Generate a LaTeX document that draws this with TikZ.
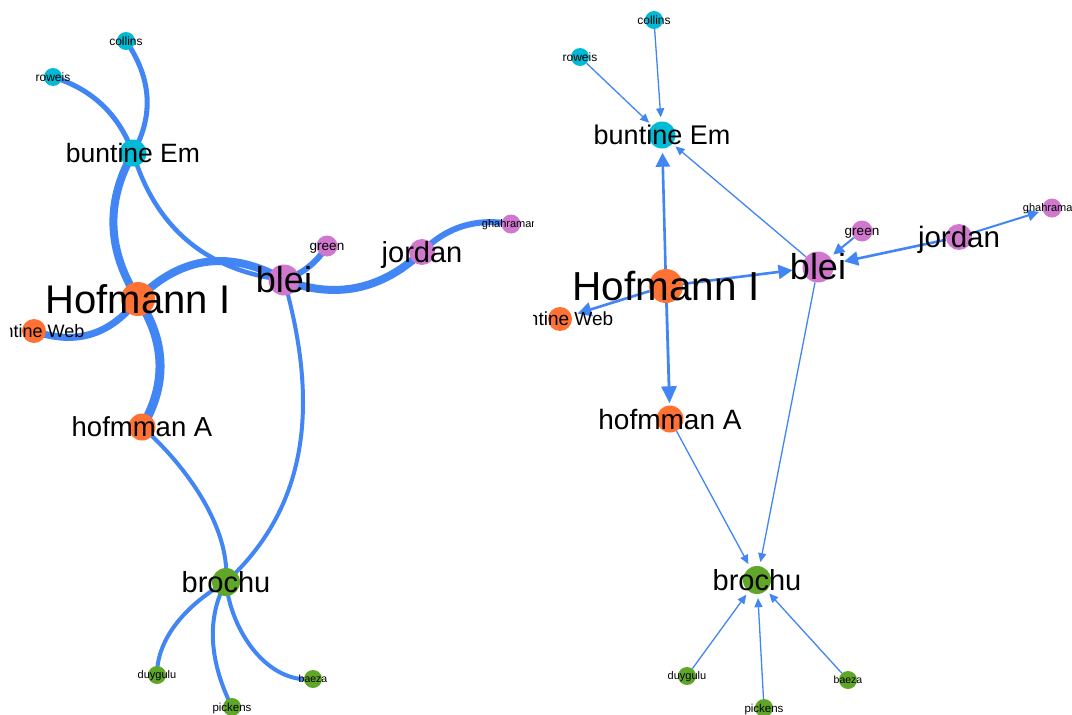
\documentclass[tikz,border=0pt]{standalone}
\usepackage{fontspec}
\setmainfont{Liberation Sans}
\usetikzlibrary{arrows.meta}
\pgfdeclarelayer{background}
\pgfsetlayers{background,main}

\definecolor{edgeblue}{RGB}{66,133,244}
\definecolor{ncyan}{RGB}{0,186,214}
\definecolor{norange}{RGB}{255,114,52}
\definecolor{npurple}{RGB}{208,120,206}
\definecolor{ngreen}{RGB}{96,166,40}

\tikzset{
  vtx/.style={circle, inner sep=0pt, minimum size=#1, draw=none},
  cy/.style={vtx=#1, fill=ncyan},
  og/.style={vtx=#1, fill=norange},
  pu/.style={vtx=#1, fill=npurple},
  gn/.style={vtx=#1, fill=ngreen},
  lbl/.style={inner sep=0pt, anchor=base, yshift=-0.36*#1pt,
              font=\fontsize{#1}{#1}\selectfont, text=black},
  cv/.style={draw=edgeblue, line width=#1},
  thinarr/.style={draw=edgeblue, line width=1.3, shorten >=4,
                  -{Triangle[length=9,width=8]}},
  medarr/.style={draw=edgeblue, line width=2, shorten >=4,
                 -{Triangle[length=11,width=11]}},
  bigarr/.style={draw=edgeblue, line width=2.6, shorten >=#1,
                 -{Triangle[length=14,width=14]}},
}

\begin{document}
\begin{tikzpicture}[x=1pt, y=-1pt]
\useasboundingbox (0,0) rectangle (1072,715);
\begin{pgfonlayer}{background}
\fill[white] (0,0) rectangle (1072,715);
\end{pgfonlayer}

% ---------------- undirected layout ----------------
\node[cy=18] (lcol)   at (126,41)  {};
\node[cy=18] (lrow)   at (53,77)   {};
\node[cy=27] (lbuE)   at (133,153) {};
\node[og=34] (lHof)   at (138,299) {};
\node[og=24] (lbuW)   at (34,331)  {};
\node[pu=31] (lblei)  at (284,280) {};
\node[pu=21] (lgreen) at (327,246) {};
\node[pu=26] (ljor)   at (422,252) {};
\node[pu=19] (lgha)   at (511,224) {};
\node[og=27] (lhoA)   at (142,427) {};
\node[gn=28] (lbro)   at (226,582) {};
\node[gn=18] (lduy)   at (157,675) {};
\node[gn=18] (lpic)   at (232,707) {};
\node[gn=18] (lbae)   at (313,679) {};

\begin{pgfonlayer}{background}
\draw[cv=5]   (lcol.center)  .. controls +(25.7,37.3) and +(21,-37.3)   .. (lbuE.center);
\draw[cv=5]   (lrow.center)  .. controls +(39.2,12.1) and +(-14.1,-38.5) .. (lbuE.center);
\draw[cv=8]   (lbuE.center)  .. controls +(-27.7,49)  and +(-31,-49)     .. (lHof.center);
\draw[cv=4.5] (lbuE.center)  .. controls +(22.8,75)   and +(-77.9,-9.7)  .. (lblei.center);
\draw[cv=8]   (lHof.center)  .. controls +(43.6,-43.6) and +(-53.7,-30.3) .. (lblei.center);
\draw[cv=7]   (lHof.center)  .. controls +(-27.2,35.6) and +(42.1,14.9)  .. (lbuW.center);
\draw[cv=9]   (lHof.center)  .. controls +(28,42.3)   and +(25.3,-42.3)  .. (lhoA.center);
\draw[cv=6]   (lblei.center) .. controls +(18.5,-6.1) and +(-10.2,16.5)  .. (lgreen.center);
\draw[cv=8]   (lblei.center) .. controls +(51.6,19.8) and +(-40.4,37.8)  .. (ljor.center);
\draw[cv=6]   (ljor.center)  .. controls +(24.6,-25.4) and +(-34.7,-6.1) .. (lgha.center);
\draw[cv=4]   (lblei.center) .. controls +(31,110)    and +(90,-82)      .. (lbro.center);
\draw[cv=4]   (lhoA.center)  .. controls +(35,30)     and +(5,-60)       .. (lbro.center);
\draw[cv=4]   (lbro.center)  .. controls +(-35,20)    and +(0,-40)       .. (lduy.center);
\draw[cv=4]   (lbro.center)  .. controls +(-22,40)    and +(-20,-40)     .. (lpic.center);
\draw[cv=4]   (lbro.center)  .. controls +(5,50)      and +(-45,5)       .. (lbae.center);
\end{pgfonlayer}

\begin{scope}
\clip (10,0) rectangle (533,715);
\node[lbl=12]   (lcol-t)   at (lcol)   {collins};
\node[lbl=12]   (lrow-t)   at (lrow)   {roweis};
\node[lbl=26.5] (lbuE-t)   at (lbuE)   {buntine Em};
\node[lbl=40]   (lHof-t)   at (lHof)   {Hofmann I};
\node[lbl=18]   (lbuW-t)   at (lbuW)   {buntine Web};
\node[lbl=36]   (lblei-t)  at (lblei)  {blei};
\node[lbl=13.5] (lgreen-t) at (lgreen) {green};
\node[lbl=29]   (ljor-t)   at (ljor)   {jordan};
\node[lbl=11]   (lgha-t)   at (lgha)   {ghahramani};
\node[lbl=27.5] (lhoA-t)   at (lhoA)   {hofmman A};
\node[lbl=29]   (lbro-t)   at (lbro)   {brochu};
\node[lbl=11]   (lduy-t)   at (lduy)   {duygulu};
\node[lbl=11.5] (lpic-t)   at (lpic)   {pickens};
\node[lbl=10.5] (lbae-t)   at (lbae)   {baeza};
\end{scope}

% ---------------- directed layout ----------------
\node[cy=18] (rcol)   at (654,20)  {};
\node[cy=18] (rrow)   at (580,57)  {};
\node[cy=27] (rbuE)   at (662,135) {};
\node[og=34] (rHof)   at (666,286) {};
\node[og=24] (rbuW)   at (560,319) {};
\node[pu=31] (rblei)  at (818,267) {};
\node[pu=21] (rgreen) at (862,231) {};
\node[pu=26] (rjor)   at (959,237) {};
\node[pu=19] (rgha)   at (1052,208) {};
\node[og=27] (rhoA)   at (670,419) {};
\node[gn=28] (rbro)   at (757,580) {};
\node[gn=18] (rduy)   at (687,676) {};
\node[gn=18] (rpic)   at (764,708) {};
\node[gn=18] (rbae)   at (848,680) {};

\begin{pgfonlayer}{background}
\draw[thinarr]   (rcol)   -- (rbuE);
\draw[thinarr]   (rrow)   -- (rbuE);
\draw[bigarr=4]  (rHof)   -- (rbuE);
\draw[thinarr]   (rblei)  -- (rbuE);
\draw[bigarr=10] (rHof)   -- (rblei);
\draw[bigarr=6]  (rHof)   -- (rbuW);
\draw[draw=edgeblue, line width=2.8, shorten >=2,
      -{Triangle[length=17,width=15]}] (rHof) -- (rhoA);
\draw[medarr]    (rgreen) -- (rblei);
\draw[bigarr=11] (rjor)   -- (rblei);
\draw[medarr]    (rjor)   -- (rgha);
\draw[thinarr]   (rhoA)   -- (rbro);
\draw[thinarr]   (rblei)  -- (rbro);
\draw[thinarr]   (rduy)   -- (rbro);
\draw[thinarr]   (rpic)   -- (rbro);
\draw[thinarr]   (rbae)   -- (rbro);
\end{pgfonlayer}

\begin{scope}
\clip (533,0) rectangle (1072,715);
\node[lbl=12]   (rcol-t)   at (rcol)   {collins};
\node[lbl=12]   (rrow-t)   at (rrow)   {roweis};
\node[lbl=27]   (rbuE-t)   at (rbuE)   {buntine Em};
\node[lbl=40.5] (rHof-t)   at (rHof)   {Hofmann I};
\node[lbl=19]   (rbuW-t)   at (rbuW)   {buntine Web};
\node[lbl=36]   (rblei-t)  at (rblei)  {blei};
\node[lbl=13.5] (rgreen-t) at (rgreen) {green};
\node[lbl=29.5] (rjor-t)   at (rjor)   {jordan};
\node[lbl=11]   (rgha-t)   at (rgha)   {ghahramani};
\node[lbl=28]   (rhoA-t)   at (rhoA)   {hofmman A};
\node[lbl=29]   (rbro-t)   at (rbro)   {brochu};
\node[lbl=11]   (rduy-t)   at (rduy)   {duygulu};
\node[lbl=11.5] (rpic-t)   at (rpic)   {pickens};
\node[lbl=10.5] (rbae-t)   at (rbae)   {baeza};
\end{scope}
\end{tikzpicture}
\end{document}
